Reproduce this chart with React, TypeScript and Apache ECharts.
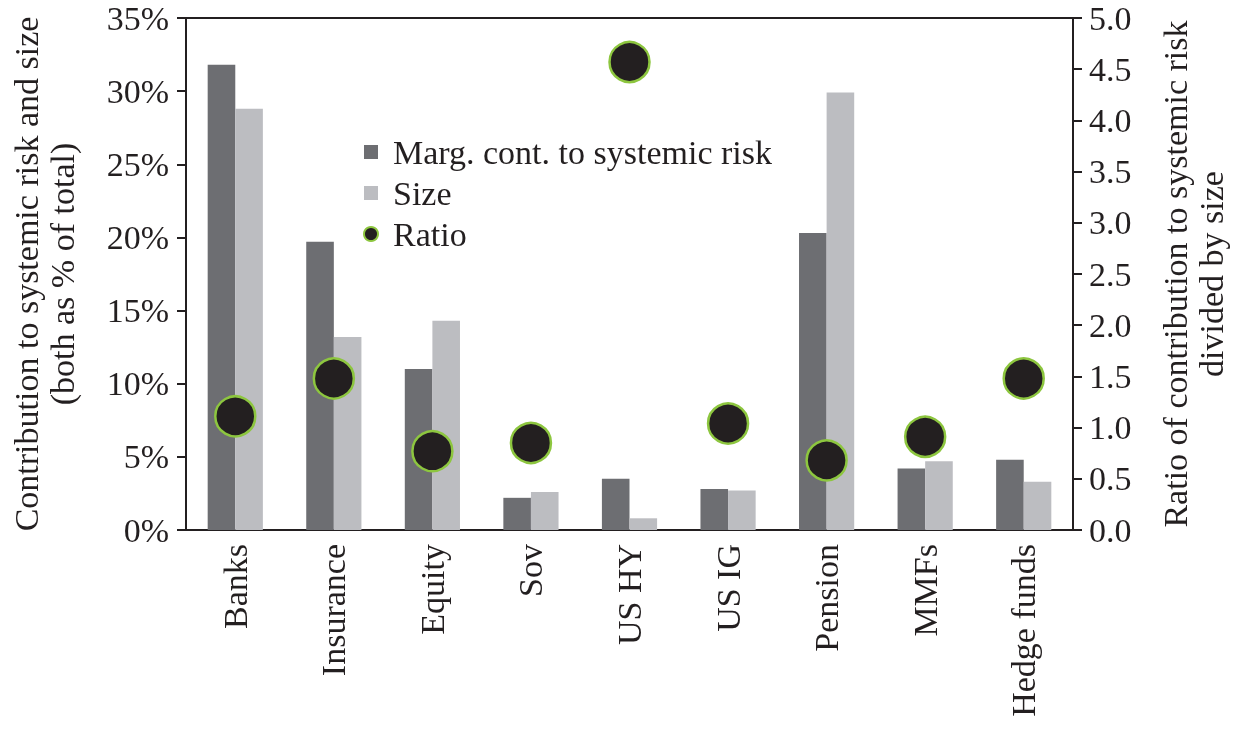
import React, { useEffect, useRef } from "react";
import * as echarts from "echarts";

const categories = ["Banks", "Insurance", "Equity", "Sov", "US HY", "US IG", "Pension", "MMFs", "Hedge funds"];
const margContribution = [31.8, 19.7, 11.0, 2.2, 3.5, 2.8, 20.3, 4.2, 4.8];
const sizeShare = [28.8, 13.2, 14.3, 2.6, 0.8, 2.7, 29.9, 4.7, 3.3];
const ratio = [1.11, 1.48, 0.77, 0.85, 4.57, 1.04, 0.68, 0.91, 1.48];

const FONT = "Liberation Serif";
const INK = "#231f20";
const FS = 34;

export default function App() {
  const ref = useRef<HTMLDivElement>(null);
  useEffect(() => {
    if (!ref.current) return;
    const chart = echarts.init(ref.current, undefined, { renderer: "svg" });
    chart.setOption({
      animation: false,
      textStyle: { fontFamily: FONT, color: INK },
      grid: {
        left: 181,
        right: 157,
        top: 18,
        bottom: 201,
        show: true,
        borderColor: INK,
        borderWidth: 2,
        backgroundColor: "transparent",
      },
      legend: {
        orient: "vertical",
        left: 358,
        top: 130,
        itemGap: 7,
        itemWidth: 14,
        itemHeight: 14,
        textStyle: { fontFamily: FONT, fontSize: FS, color: INK, padding: [0, 0, 0, 10] },
        data: [
          { name: "Marg. cont. to systemic risk", icon: "rect" },
          { name: "Size", icon: "rect" },
          { name: "Ratio", icon: "circle" },
        ],
      },
      xAxis: {
        type: "category",
        data: categories,
        axisLine: { lineStyle: { color: INK, width: 2 } },
        axisTick: { length: 10, lineStyle: { color: INK, width: 2 } },
        axisLabel: { rotate: 90, fontSize: FS, color: INK, fontFamily: FONT, margin: 14 },
      },
      yAxis: [
        {
          type: "value",
          min: 0,
          max: 35,
          interval: 5,
          name: "Contribution to systemic risk and size\n(both as % of total)",
          nameLocation: "middle",
          nameRotate: 90,
          nameGap: 106,
          nameTextStyle: { fontSize: FS, color: INK, fontFamily: FONT, lineHeight: 36 },
          axisLine: { show: true, lineStyle: { color: INK, width: 2 } },
          axisTick: { show: true, length: 9, lineStyle: { color: INK, width: 2 } },
          axisLabel: { formatter: "{value}%", fontSize: FS, color: INK, fontFamily: FONT, margin: 17 },
          splitLine: { show: false },
        },
        {
          type: "value",
          min: 0,
          max: 5,
          interval: 0.5,
          position: "right",
          name: "Ratio of contribution to systemic risk\ndivided by size",
          nameLocation: "middle",
          nameRotate: 90,
          nameGap: 84,
          nameTextStyle: { fontSize: FS, color: INK, fontFamily: FONT, lineHeight: 36 },
          axisLine: { show: true, lineStyle: { color: INK, width: 2 } },
          axisTick: { show: true, length: 9, lineStyle: { color: INK, width: 2 } },
          axisLabel: {
            formatter: (v: number) => v.toFixed(1),
            fontSize: FS,
            color: INK,
            fontFamily: FONT,
            margin: 16,
          },
          splitLine: { show: false },
        },
      ],
      series: [
        {
          name: "Marg. cont. to systemic risk",
          type: "bar",
          yAxisIndex: 0,
          data: margContribution,
          barWidth: "28%",
          barGap: "0%",
          itemStyle: { color: "#6d6e72" },
        },
        {
          name: "Size",
          type: "bar",
          yAxisIndex: 0,
          data: sizeShare,
          barWidth: "28%",
          barGap: "0%",
          itemStyle: { color: "#bcbdc1" },
        },
        {
          name: "Ratio",
          type: "scatter",
          yAxisIndex: 1,
          data: ratio,
          symbol: "circle",
          symbolSize: 40,
          itemStyle: { color: INK, borderColor: "#8dc63f", borderWidth: 2.5, opacity: 1 },
          z: 5,
        },
      ],
    });
    return () => chart.dispose();
  }, []);
  return (
    <div
      ref={ref}
      style={{ position: "fixed", left: 0, top: 0, width: 1237, height: 731 }}
    />
  );
}
